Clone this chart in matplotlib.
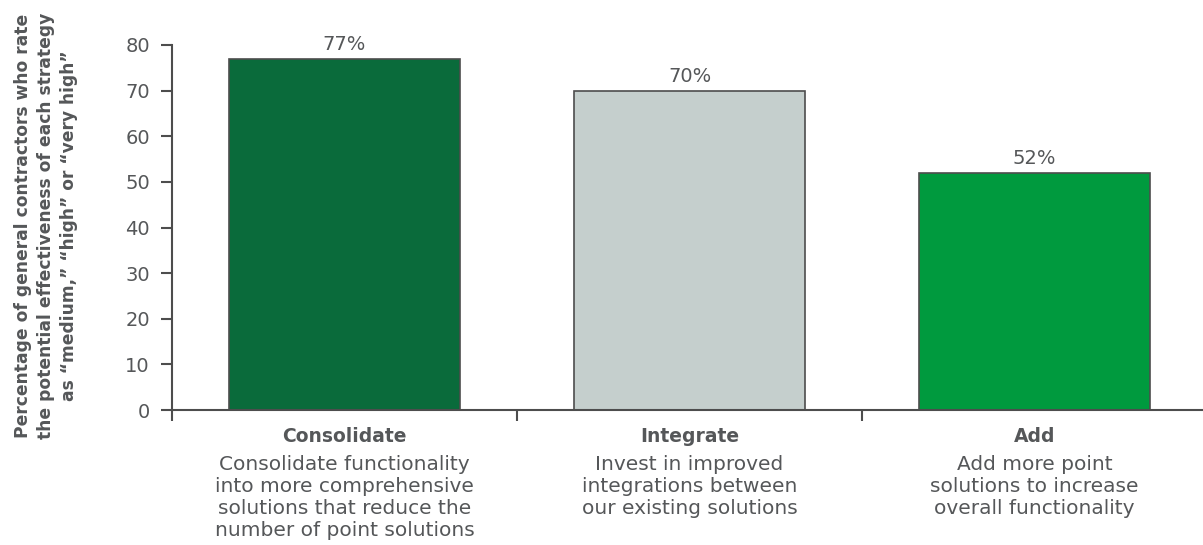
import matplotlib.pyplot as plt
from matplotlib import transforms

categories = ["Consolidate", "Integrate", "Add"]
descriptions = [
    "Consolidate functionality\ninto more comprehensive\nsolutions that reduce the\nnumber of point solutions",
    "Invest in improved\nintegrations between\nour existing solutions",
    "Add more point\nsolutions to increase\noverall functionality",
]
values = [77, 70, 52]
colors = ["#0a6b3b", "#c5cfcd", "#009a3e"]
yticks = [0, 10, 20, 30, 40, 50, 60, 70, 80]

plt.rcParams['font.family'] = ['DejaVu Sans']
txt = "#555759"

fig = plt.figure(figsize=(12.03, 5.45), dpi=100)
ax = fig.add_axes([172 / 1203, 135 / 545, 1035 / 1203, 365 / 545])

x = range(len(categories))
ax.bar(x, values, width=0.667, color=colors, edgecolor="#4d4d4d", linewidth=1.2)
for i, v in enumerate(values):
    ax.text(i, v + 1.0, f"{v}%", ha="center", va="bottom", fontsize=14, color=txt)

ax.set_xlim(-0.5, 2.5)
ax.set_ylim(0, 80)
ax.set_yticks(yticks)
ax.set_xticks([-0.5, 0.5, 1.5, 2.5])
ax.set_xticklabels([])
ax.tick_params(axis="y", labelsize=14, labelcolor=txt, color="#4d4d4d", length=8, width=1.5, direction="out", pad=8)
ax.tick_params(axis="x", color="#4d4d4d", length=8, width=1.5, direction="out")
for s in ["top", "right"]:
    ax.spines[s].set_visible(False)
for s in ["left", "bottom"]:
    ax.spines[s].set_color("#4d4d4d")
    ax.spines[s].set_linewidth(1.5)

trans = transforms.blended_transform_factory(ax.transData, ax.transAxes)
for i, (c, d) in enumerate(zip(categories, descriptions)):
    ax.text(i, -0.047, c, transform=trans, ha="center", va="top",
            fontsize=13.5, fontweight="bold", color=txt)
    ax.text(i, -0.122, d, transform=trans, ha="center", va="top",
            fontsize=14.5, color=txt, linespacing=1.2)

fig.text(46 / 1203, 1 - 226 / 545,
         "Percentage of general contractors who rate\nthe potential effectiveness of each strategy\nas \u201cmedium,\u201d \u201chigh\u201d or \u201cvery high\u201d",
         rotation=90, ha="center", va="center", fontsize=12.3, fontweight="bold",
         color=txt, linespacing=1.35)

fig.savefig("out.png", dpi=100)
